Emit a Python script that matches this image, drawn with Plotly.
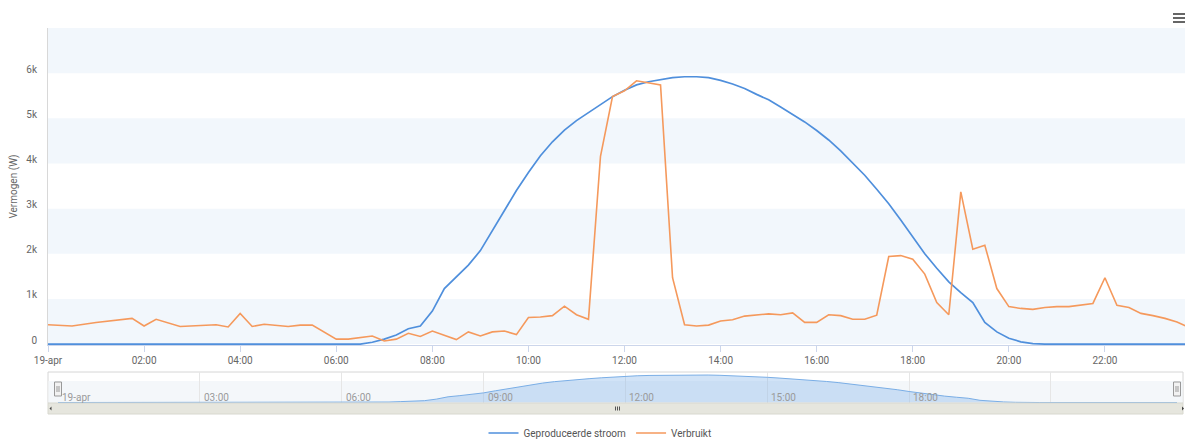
import plotly.graph_objects as go

DAY = "2019-04-19 "

# ---- data ----
prod_times = ["00:00", "06:30", "06:45", "07:00", "07:15", "07:30", "07:45", "08:00", "08:15", "08:30",
              "08:45", "09:00", "09:15", "09:30", "09:45", "10:00", "10:15", "10:30", "10:45", "11:00",
              "11:15", "11:30", "11:45", "12:00", "12:15", "12:30", "12:45", "13:00", "13:15", "13:30",
              "13:45", "14:00", "14:15", "14:30", "14:45", "15:00", "15:15", "15:30", "15:45", "16:00",
              "16:15", "16:30", "16:45", "17:00", "17:15", "17:30", "17:45", "18:00", "18:15", "18:30",
              "18:45", "19:00", "19:15", "19:30", "19:45", "20:00", "20:15", "20:30", "20:45", "23:45"]
prod_values = [0, 0, 40, 110, 200, 340, 400, 730, 1230, 1480,
               1750, 2070, 2520, 2970, 3400, 3800, 4170, 4480, 4740, 4950,
               5130, 5310, 5480, 5620, 5740, 5810, 5860, 5900, 5920, 5920,
               5900, 5840, 5760, 5660, 5530, 5410, 5250, 5090, 4920, 4730,
               4520, 4280, 4000, 3740, 3430, 3110, 2750, 2370, 2000, 1680,
               1380, 1140, 920, 480, 270, 130, 50, 10, 0, 0]

cons_times = ["00:00", "00:30", "01:00", "01:15", "01:45", "02:00", "02:15", "02:45", "03:00", "03:15",
              "03:30", "03:45", "04:00", "04:15", "04:30", "05:00", "05:15", "05:30", "06:00", "06:15",
              "06:30", "06:45", "07:00", "07:15", "07:30", "07:45", "08:00", "08:15", "08:30", "08:45",
              "09:00", "09:15", "09:30", "09:45", "10:00", "10:15", "10:30", "10:45", "11:00", "11:15",
              "11:30", "11:45", "12:00", "12:15", "12:30", "12:45", "13:00", "13:15", "13:30", "13:45",
              "14:00", "14:15", "14:30", "14:45", "15:00", "15:15", "15:30", "15:45", "16:00", "16:15",
              "16:30", "16:45", "17:00", "17:15", "17:30", "17:45", "18:00", "18:15", "18:30", "18:45",
              "19:00", "19:15", "19:30", "19:45", "20:00", "20:15", "20:30", "20:45", "21:00", "21:15",
              "21:30", "21:45", "22:00", "22:15", "22:30", "22:45", "23:00", "23:15", "23:30", "23:45"]
cons_values = [430, 400, 480, 510, 570, 400, 550, 390, 400, 410,
               430, 380, 680, 390, 440, 390, 420, 420, 110, 110,
               140, 180, 70, 110, 240, 170, 290, 200, 100, 270,
               180, 270, 290, 210, 590, 600, 630, 840, 650, 550,
               4160, 5480, 5610, 5830, 5780, 5740, 1470, 430, 400, 420,
               510, 540, 620, 650, 670, 650, 690, 480, 480, 650,
               630, 550, 550, 640, 1940, 1960, 1880, 1550, 920, 650,
               3370, 2100, 2190, 1230, 830, 790, 770, 810, 830, 830,
               870, 900, 1470, 860, 810, 680, 630, 570, 490, 370]

x_tick_times = ["00:00", "02:00", "04:00", "06:00", "08:00", "10:00", "12:00", "14:00", "16:00", "18:00", "20:00", "22:00"]
x_tick_labels = ["19-apr", "02:00", "04:00", "06:00", "08:00", "10:00", "12:00", "14:00", "16:00", "18:00", "20:00", "22:00"]
y_tick_values = [0, 1000, 2000, 3000, 4000, 5000, 6000]
y_tick_labels = ["0", "1k", "2k", "3k", "4k", "5k", "6k"]
nav_label_times = ["00:00", "03:00", "06:00", "09:00", "12:00", "15:00", "18:00"]
nav_label_texts = ["19-apr", "03:00", "06:00", "09:00", "12:00", "15:00", "18:00"]
band_ranges = [(0, 1000), (2000, 3000), (4000, 5000), (6000, 7000)]

SERIES_NAMES = ["Geproduceerde stroom", "Verbruikt"]
BLUE = "#4f8fdc"
ORANGE = "#f5995c"

X_START = DAY + "00:00"
X_END = DAY + "23:40"

# ---- pixel helpers for decorations ----
W, H = 1185, 439
ML, MR, MT, MB = 48, 0, 28, 25
PW = W - ML - MR
PH = H - MT - MB


def px(x):
    return (x - ML) / PW


def py(y):
    return (H - MB - y) / PH


def full(ts):
    return [DAY + t for t in ts]


fig = go.Figure()

fig.add_trace(go.Scatter(
    x=full(prod_times), y=prod_values, name=SERIES_NAMES[0], mode="lines",
    line=dict(color=BLUE, width=1.7), xaxis="x", yaxis="y"))
fig.add_trace(go.Scatter(
    x=full(cons_times), y=cons_values, name=SERIES_NAMES[1], mode="lines",
    line=dict(color=ORANGE, width=1.6), xaxis="x", yaxis="y"))

# navigator series
fig.add_trace(go.Scatter(
    x=full(prod_times), y=prod_values, mode="lines", fill="tozeroy",
    fillcolor="rgba(124,176,232,0.35)", line=dict(color="#7aaee6", width=1),
    showlegend=False, hoverinfo="skip", xaxis="x2", yaxis="y2"))

shapes = []
# plot bands
for y0, y1 in band_ranges:
    shapes.append(dict(type="rect", xref="paper", yref="y", x0=0, x1=1, y0=y0, y1=y1,
                       fillcolor="#f2f7fc", line=dict(width=0), layer="below"))

# navigator frame and shading
shapes.append(dict(type="rect", xref="paper", yref="paper", x0=px(48), x1=px(1183), y0=py(403), y1=py(372),
                   fillcolor="white", line=dict(color="#d6d6d6", width=1), layer="below"))
shapes.append(dict(type="rect", xref="paper", yref="paper", x0=px(48.5), x1=px(1182.5), y0=py(403), y1=py(381),
                   fillcolor="#f4f7fa", line=dict(width=0), layer="below"))
# scrollbar
shapes.append(dict(type="rect", xref="paper", yref="paper", x0=px(48), x1=px(1183), y0=py(414), y1=py(403),
                   fillcolor="#e6e6de", line=dict(color="#d8d8cf", width=1), layer="above"))
for gx in (615.5, 617.5, 619.5):
    shapes.append(dict(type="line", xref="paper", yref="paper", x0=px(gx), x1=px(gx), y0=py(406.5), y1=py(410.5),
                       line=dict(color="#555555", width=1), layer="above"))
shapes.append(dict(type="path", xref="paper", yref="paper",
                   path=f"M {px(49.5)} {py(408.5)} L {px(51.5)} {py(406.5)} L {px(51.5)} {py(410.5)} Z",
                   fillcolor="#444444", line=dict(width=0), layer="above"))
shapes.append(dict(type="path", xref="paper", yref="paper",
                   path=f"M {px(1184)} {py(408.5)} L {px(1182)} {py(406.5)} L {px(1182)} {py(410.5)} Z",
                   fillcolor="#444444", line=dict(width=0), layer="above"))
# navigator handles
for hx in (58, 1177):
    shapes.append(dict(type="rect", xref="paper", yref="paper", x0=px(hx - 3.5), x1=px(hx + 3.5),
                       y0=py(396), y1=py(382), fillcolor="#f2f2f2", line=dict(color="#999999", width=1),
                       layer="above"))
    for lx in (hx - 1, hx + 1):
        shapes.append(dict(type="line", xref="paper", yref="paper", x0=px(lx), x1=px(lx),
                           y0=py(392), y1=py(386), line=dict(color="#999999", width=1), layer="above"))
# hamburger menu
for my in (14, 18, 22):
    shapes.append(dict(type="rect", xref="paper", yref="paper", x0=px(1173), x1=px(1185),
                       y0=py(my + 1), y1=py(my - 1), fillcolor="#666666", line=dict(width=0), layer="above"))

annotations = []
for t, lab in zip(nav_label_times, nav_label_texts):
    annotations.append(dict(x=DAY + t, xref="x2", y=py(397), yref="paper", text=lab, showarrow=False,
                            xanchor="left", yanchor="middle", xshift=2,
                            font=dict(family="Roboto", size=10, color="#9a9a9a")))

fig.update_layout(
    width=W, height=H,
    margin=dict(l=ML, r=MR, t=MT, b=MB, autoexpand=False),
    paper_bgcolor="white", plot_bgcolor="white",
    font=dict(family="Roboto", size=10, color="#666666"),
    showlegend=True,
    legend=dict(orientation="h", xref="container", yref="container",
                x=600 / W, xanchor="center", y=(H - 433) / H, yanchor="middle",
                font=dict(family="Roboto", size=10, color="#555555"), itemwidth=30,
                bgcolor="rgba(0,0,0,0)"),
    xaxis=dict(domain=[0, 1], anchor="y", type="date", range=[X_START, X_END], automargin=False,
               tickvals=full(x_tick_times), ticktext=x_tick_labels,
               showgrid=False, zeroline=False, showline=True, linecolor="#ccd6eb", linewidth=1,
               ticks="outside", ticklen=6, tickcolor="#ccd6eb",
               tickfont=dict(family="Roboto", size=10, color="#666666")),
    yaxis=dict(domain=[py(345), 1], anchor="x", range=[-20, 7000], automargin=False,
               tickvals=y_tick_values, ticktext=y_tick_labels, ticklabelshift=-4, ticklabelstandoff=8,
               showgrid=False, zeroline=False, showline=True, linecolor="#d8d8d8", linewidth=1,
               ticks="", tickfont=dict(family="Roboto", size=10, color="#666666"),
               title=dict(text="Vermogen (W)", standoff=6,
                          font=dict(family="Roboto", size=10, color="#666666"))),
    xaxis2=dict(domain=[px(58), px(1177)], anchor="y2", type="date", range=[X_START, X_END], automargin=False,
                showgrid=True, gridcolor="#e6e6e6", gridwidth=1, dtick=3 * 3600 * 1000, tick0=X_START,
                showticklabels=False, zeroline=False, showline=False, ticks=""),
    yaxis2=dict(domain=[py(403), py(372)], anchor="x2", range=[-100, 6550], automargin=False,
                showgrid=False, showticklabels=False, zeroline=False, showline=False, ticks=""),
    shapes=shapes,
    annotations=annotations,
    hovermode=False,
)

fig.write_html("out.html", config={"displayModeBar": False},
               post_script="document.body.style.margin='0';document.body.style.padding='0';"
                           "document.documentElement.style.overflow='hidden';")
